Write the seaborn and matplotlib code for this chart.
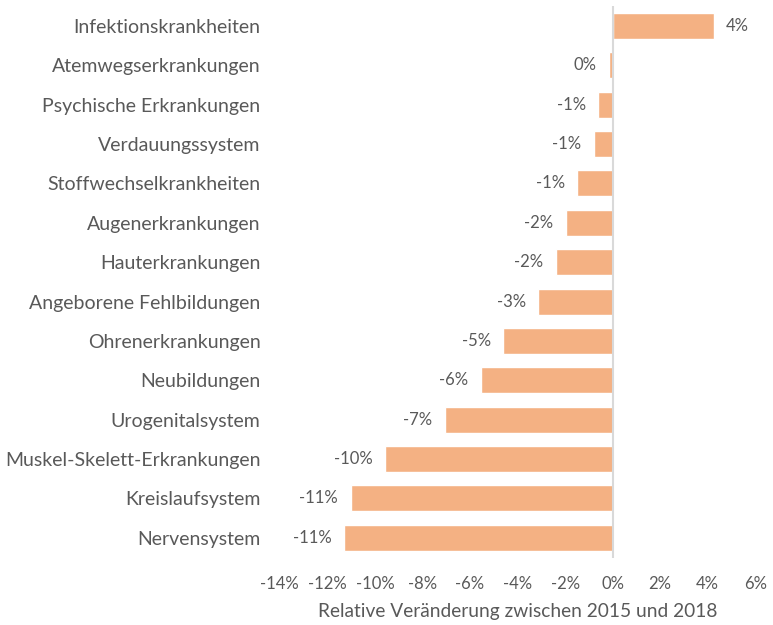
import pandas as pd
import numpy as np
import matplotlib.pyplot as plt
import seaborn as sns
from matplotlib.ticker import FuncFormatter

# Daten
categories = ['Infektionskrankheiten', 'Atemwegserkrankungen', 'Psychische Erkrankungen',
              'Verdauungssystem', 'Stoffwechselkrankheiten', 'Augenerkrankungen',
              'Hauterkrankungen', 'Angeborene Fehlbildungen', 'Ohrenerkrankungen',
              'Neubildungen', 'Urogenitalsystem', 'Muskel-Skelett-Erkrankungen',
              'Kreislaufsystem', 'Nervensystem']
changes = [4.25, -0.15, -0.6, -0.78, -1.48, -1.98, -2.4, -3.13, -4.6, -5.55,
           -7.07, -9.58, -11.02, -11.29]
bar_labels = ['4%', '0%', '-1%', '-1%', '-1%', '-2%', '-2%', '-3%', '-5%', '-6%',
              '-7%', '-10%', '-11%', '-11%']
x_ticks = list(range(-14, 7, 2))
x_title = 'Relative Veränderung zwischen 2015 und 2018'

sns.set_style("white")
plt.rcParams['font.family'] = ['Lato', 'DejaVu Sans']
text_color = '#595959'

df = pd.DataFrame({'Kategorie': categories, 'Veraenderung': changes})

fig, ax = plt.subplots(figsize=(7.73, 6.25), dpi=100)
fig.subplots_adjust(left=0.362, right=0.977, top=0.99, bottom=0.108)

sns.barplot(data=df, y='Kategorie', x='Veraenderung', orient='h',
            color='#F4B183', saturation=1, width=0.66, ax=ax)

# Nulllinie
ax.axvline(0, color='#D9D9D9', lw=1.5, zorder=3)

ax.bar_label(ax.containers[0], labels=bar_labels, padding=9,
             fontsize=12, color=text_color)

ax.set_xlim(-14, 6)
ax.set_xticks(x_ticks)
ax.xaxis.set_major_formatter(FuncFormatter(lambda v, p: f'{v:.0f}%'))
ax.tick_params(axis='x', length=0, pad=13, labelsize=12, labelcolor=text_color)
ax.tick_params(axis='y', length=0, pad=14, labelsize=14, labelcolor=text_color)
ax.set_ylabel('')
ax.set_xlabel(x_title, fontsize=13.8, color=text_color, labelpad=8)

for s in ax.spines.values():
    s.set_visible(False)

plt.savefig('out.png', dpi=100)
plt.close()
